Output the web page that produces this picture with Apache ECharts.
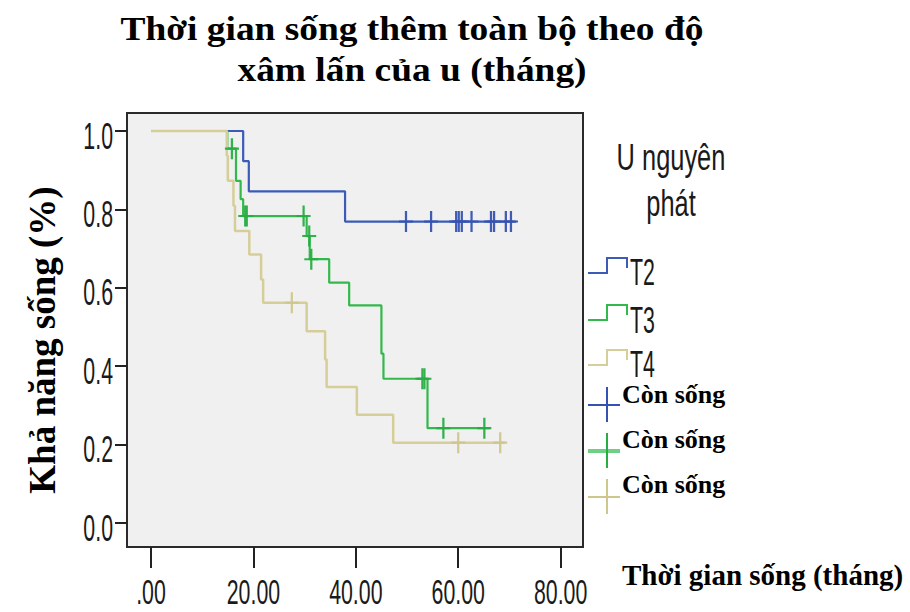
<!DOCTYPE html>
<html>
<head>
<meta charset="utf-8">
<script src="https://cdn.jsdelivr.net/npm/echarts@6/dist/echarts.min.js"></script>
<style>
  html, body { margin: 0; padding: 0; background: #ffffff; }
  #chart { width: 910px; height: 612px; }
</style>
</head>
<body>
<div id="chart"></div>
<script>
// Kaplan–Meier steps: event times (months) and survival after each step
const groupNames = ['T2', 'T3', 'T4'];

const t2Time = [0, 18.0, 19.1, 37.9, 71.3];
const t2Surv = [1.0, 0.923, 0.846, 0.769, 0.769];
const t2Censor = [49.8, 54.7, 59.6, 60.1, 60.7, 62.6, 66.4, 67.0, 69.3, 70.3];

const t3Time = [0, 14.9, 16.6, 17.5, 18.0, 30.4, 31.0, 34.8, 38.7, 45.0, 45.4, 54.0, 66.2];
const t3Surv = [1.0, 0.955, 0.873, 0.826, 0.783, 0.732, 0.673, 0.613, 0.555, 0.432, 0.368, 0.242, 0.242];
const t3Censor = [15.8, 18.4, 18.7, 29.8, 30.9, 31.3, 53.0, 53.4, 57.1, 65.1];

const t4Time = [0, 14.8, 15.0, 16.1, 16.4, 19.2, 21.5, 21.9, 30.4, 34.0, 34.3, 40.2, 47.3, 69.1];
const t4Surv = [1.0, 0.937, 0.873, 0.809, 0.745, 0.685, 0.621, 0.562, 0.489, 0.417, 0.347, 0.276, 0.205, 0.205];
const t4Censor = [27.5, 60.0, 68.2];

const xTickValues = [0, 20, 40, 60, 80];
const xTickLabels = ['.00', '20.00', '40.00', '60.00', '80.00'];
const yTickValues = [0, 0.2, 0.4, 0.6, 0.8, 1.0];
const yTickLabels = ['0.0', '0.2', '0.4', '0.6', '0.8', '1.0'];

const titleLines = ['Thời gian sống thêm toàn bộ theo độ', 'xâm lấn của u (tháng)'];
const xAxisTitle = 'Thời gian sống (tháng)';
const yAxisTitle = 'Khả năng sống (%)';
const legendTitle = ['U nguyên', 'phát'];
const censorLabel = 'Còn sống';

const lineColors = ['#3b5bb6', '#33b84c', '#d6ce98'];
const crossColors = ['#3552b0', '#27ad42', '#cfc68c'];

// survival level in effect at time t (value of the step function)
function survivalAt(times, surv, t) {
  let s = surv[0];
  for (let i = 0; i < times.length; i++) {
    if (times[i] <= t) s = surv[i];
  }
  return s;
}
function zip(times, surv) { return times.map((t, i) => [t, surv[i]]); }
function censorPoints(times, surv, cens) { return cens.map(t => [t, survivalAt(times, surv, t)]); }

const groups = [
  { time: t2Time, surv: t2Surv, cens: t2Censor },
  { time: t3Time, surv: t3Surv, cens: t3Censor },
  { time: t4Time, surv: t4Surv, cens: t4Censor }
];

const plusPath = 'path://M0,4.5 H10 V5.5 H0 Z M4.2,0 H5.8 V10 H4.2 Z';

const series = [];
groups.forEach((g, i) => {
  series.push({
    name: groupNames[i],
    type: 'line',
    step: 'end',
    data: zip(g.time, g.surv),
    symbol: 'none',
    lineStyle: { color: lineColors[i], width: i === 2 ? 2.5 : 2.2 },
    z: 2 + i,
    silent: true
  });
});
groups.forEach((g, i) => {
  series.push({
    name: censorLabel + ' ' + groupNames[i],
    type: 'scatter',
    data: censorPoints(g.time, g.surv, g.cens),
    symbol: plusPath,
    symbolSize: [14, 21],
    itemStyle: { color: crossColors[i], opacity: 0.95 },
    z: 6,
    silent: true
  });
});

const chart = echarts.init(document.getElementById('chart'), null, { renderer: 'svg' });

const option = {
  animation: false,
  backgroundColor: '#ffffff',
  grid: {
    left: 127, top: 113, right: 327, bottom: 65,
    show: true, backgroundColor: '#f0f0f0', borderColor: '#2a2a2a', borderWidth: 2
  },
  xAxis: {
    type: 'value', min: -4.69, max: 84.37,
    axisLine: { show: false, onZero: false },
    axisTick: { show: true, customValues: xTickValues, length: 21, lineStyle: { color: '#222', width: 2 } },
    axisLabel: { show: false },
    splitLine: { show: false }
  },
  yAxis: {
    type: 'value', min: -0.0612, max: 1.0459,
    axisLine: { show: false, onZero: false },
    axisTick: { show: true, customValues: yTickValues, length: 12, lineStyle: { color: '#222', width: 2 } },
    axisLabel: { show: false },
    splitLine: { show: false }
  },
  series: series
};
chart.setOption(option);

// text helpers
function narrow(str, x, y, align, size, sy) {
  return {
    type: 'text', x: x, y: y, scaleX: 0.82, scaleY: sy, z: 20,
    style: {
      text: str, font: size + 'px "Liberation Sans", Arial, sans-serif', fill: '#1a1a1a',
      align: align, textAlign: align, verticalAlign: 'middle', textVerticalAlign: 'middle'
    }
  };
}
function serifBold(str, x, y, align, size, sx, rot) {
  return {
    type: 'text', x: x, y: y, scaleX: sx || 1, rotation: rot || 0, z: 20,
    style: {
      text: str, font: 'bold ' + size + 'px "Liberation Serif", "Times New Roman", serif', fill: '#000',
      align: align, textAlign: align, verticalAlign: 'middle', textVerticalAlign: 'middle'
    }
  };
}

const graphics = [];

// tick labels placed through the axes' own scales
xTickValues.forEach((v, i) => {
  const px = chart.convertToPixel({ xAxisIndex: 0 }, v);
  graphics.push(narrow(xTickLabels[i], px, 591, 'center', 26, 1.38));
});
yTickValues.forEach((v, i) => {
  const py = chart.convertToPixel({ yAxisIndex: 0 }, v);
  graphics.push(narrow(yTickLabels[i], 113, py + 4, 'right', 26, 1.45));
});

// titles
graphics.push(serifBold(titleLines[0], 412, 29, 'center', 34, 1.1));
graphics.push(serifBold(titleLines[1], 412, 70, 'center', 34, 1.1));
graphics.push(serifBold(xAxisTitle, 622, 575, 'left', 29));
graphics.push(serifBold(yAxisTitle, 42, 340, 'center', 37, 1, Math.PI / 2));

// legend
graphics.push(narrow(legendTitle[0], 671, 157, 'center', 31, 1.2));
graphics.push(narrow(legendTitle[1], 671, 203, 'center', 31, 1.2));

const stepIconTops = [258, 305, 350];
const stepTextY = [271.5, 319, 363.5];
groupNames.forEach((name, i) => {
  const top = stepIconTops[i];
  graphics.push({
    type: 'polyline', z: 20,
    shape: { points: [[588, top + 15], [607, top + 15], [607, top], [627, top], [627, top + 10]] },
    style: { stroke: lineColors[i], lineWidth: 2, fill: null }
  });
  graphics.push(narrow(name, 630, stepTextY[i], 'left', 26, 1.45));
});

const crossCenters = [405, 451, 497];
const crossText = [394.5, 439.5, 484.5];
crossColors.forEach((c, i) => {
  const cy = crossCenters[i];
  graphics.push({
    type: 'line', z: 20,
    shape: { x1: 588, y1: cy, x2: 620, y2: cy },
    style: { stroke: i === 1 ? '#6fd083' : c, lineWidth: i === 1 ? 4 : 2 }
  });
  graphics.push({
    type: 'line', z: 21,
    shape: { x1: 607, y1: cy - 18, x2: 607, y2: cy + 17 },
    style: { stroke: c, lineWidth: 2 }
  });
  graphics.push(serifBold(censorLabel, 622, crossText[i], 'left', 26));
});

chart.setOption({ graphic: graphics });
</script>
</body>
</html>
